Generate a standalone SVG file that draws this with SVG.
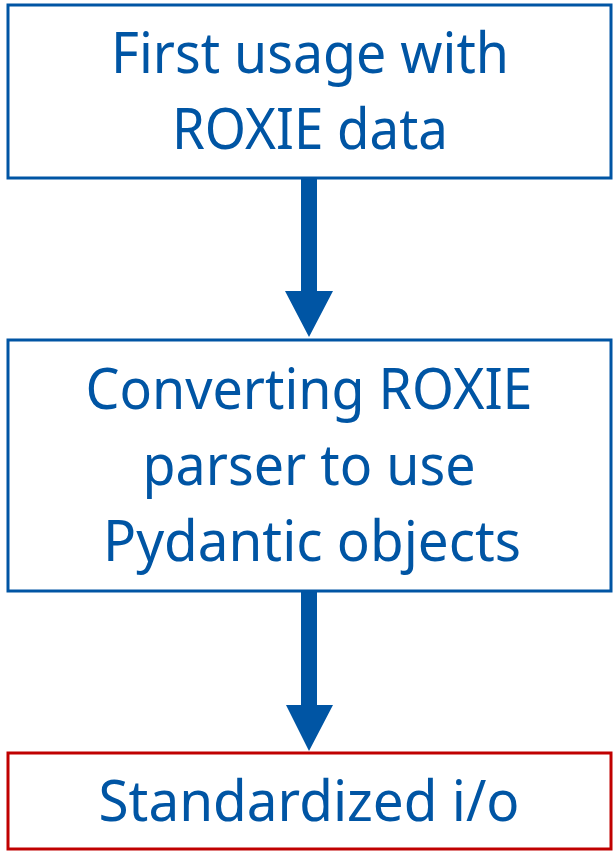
<svg xmlns="http://www.w3.org/2000/svg" width="613" height="851" viewBox="0 0 613 851">
<style>
.box{fill:#fff;stroke:#0055A4;stroke-width:3}
.red{fill:#fff;stroke:#C00000;stroke-width:3}
.t{font-family:"Noto Sans","Open Sans","Liberation Sans",sans-serif;font-size:56px;fill:#0055A4;text-anchor:middle}
.arrow{fill:#0055A4}
</style>
<rect width="613" height="851" fill="#fff"/>
<g id="connectors">
<path class="arrow" d="M301 178 H317 V291 H333 L309 337 L285 291 H301 Z"/>
<path class="arrow" d="M301 592 H317 V705 H333 L309 751 L286 705 H301 Z"/>
</g>
<g id="node1">
<rect class="box" x="8" y="5" width="603" height="173"/>
<text class="t" x="310" y="73" textLength="398" lengthAdjust="spacingAndGlyphs">First usage with</text>
<text class="t" x="310" y="149" textLength="276" lengthAdjust="spacingAndGlyphs">ROXIE data</text>
</g>
<g id="node2">
<rect class="box" x="8" y="340" width="603" height="251"/>
<text class="t" x="309" y="409" textLength="447" lengthAdjust="spacingAndGlyphs">Converting ROXIE</text>
<text class="t" x="309" y="485" textLength="333" lengthAdjust="spacingAndGlyphs">parser to use</text>
<text class="t" x="312" y="561" textLength="418" lengthAdjust="spacingAndGlyphs">Pydantic objects</text>
</g>
<g id="node3">
<rect class="red" x="8" y="753" width="603" height="96"/>
<text class="t" x="309" y="821" textLength="421" lengthAdjust="spacingAndGlyphs">Standardized i/o</text>
</g>
</svg>
